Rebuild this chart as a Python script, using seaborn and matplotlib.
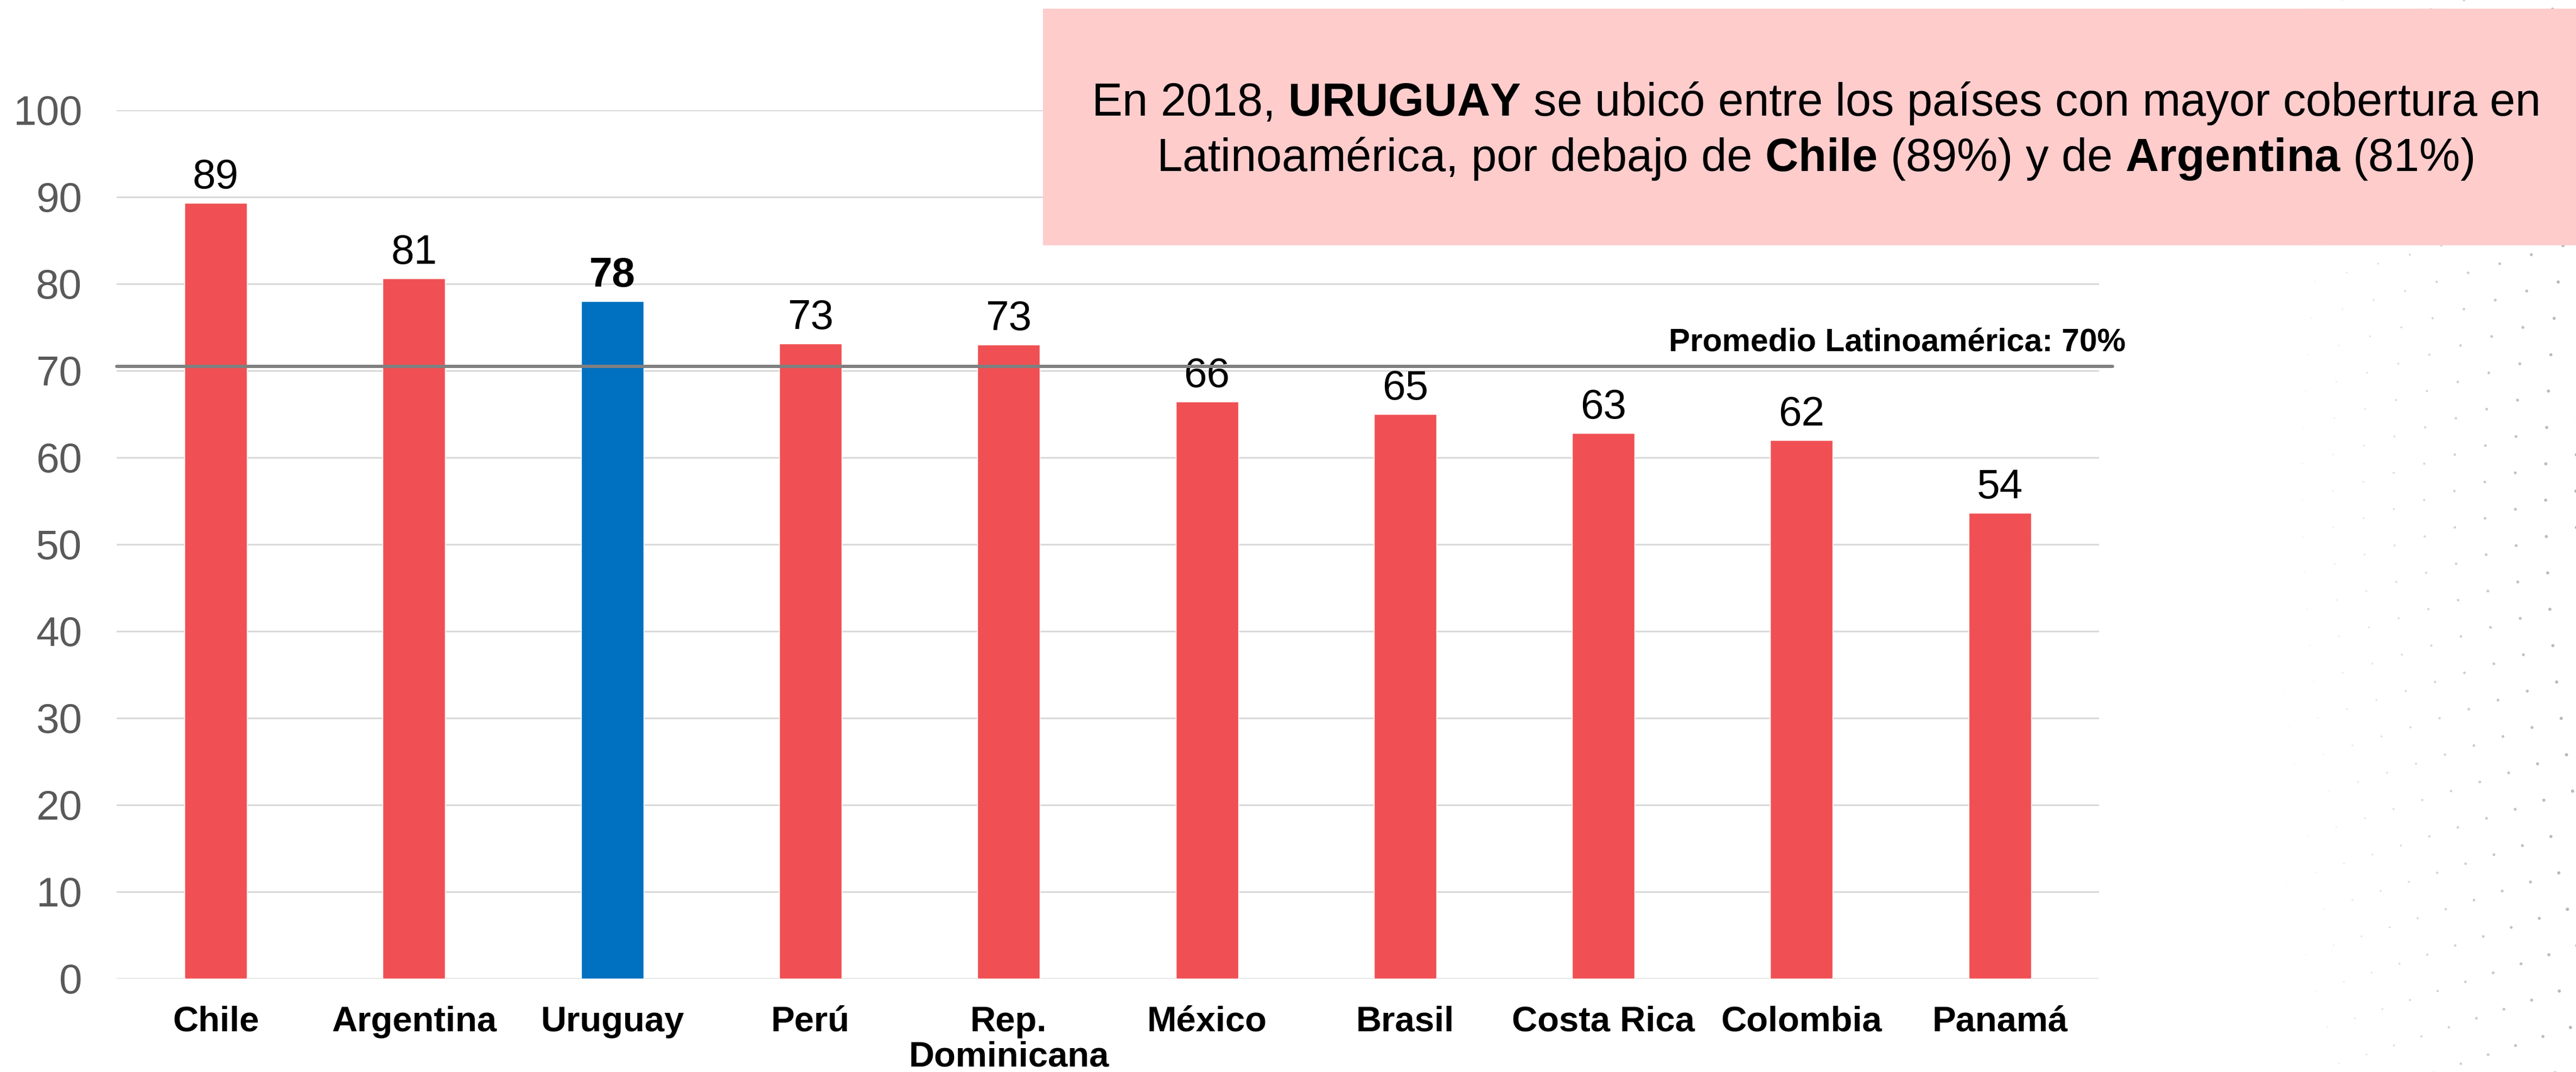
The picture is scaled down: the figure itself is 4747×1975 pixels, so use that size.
import matplotlib
matplotlib.use("Agg")
import matplotlib.pyplot as plt
import numpy as np
import pandas as pd
import seaborn as sns
from matplotlib.patches import Rectangle

# data
countries = ["Chile", "Argentina", "Uruguay", "Perú", "Rep.\nDominicana",
             "México", "Brasil", "Costa Rica", "Colombia", "Panamá"]
coverage = [89.3, 80.6, 78.0, 73.1, 73.0, 66.4, 65.0, 62.8, 62.0, 53.6]
value_labels = ["89", "81", "78", "73", "73", "66", "65", "63", "62", "54"]
highlight = "Uruguay"
latam_average = 70.5
average_label = "Promedio Latinoamérica: 70%"
y_ticks = [0, 10, 20, 30, 40, 50, 60, 70, 80, 90, 100]
note_lines = [
    "En 2018, $\\mathbf{URUGUAY}$ se ubicó entre los países con mayor cobertura en",
    "Latinoamérica, por debajo de $\\mathbf{Chile}$ (89%) y de $\\mathbf{Argentina}$ (81%)",
]

RED = "#F05053"
BLUE = "#0070C0"
PINK = "#FFCCCC"

sns.set_theme(style="white")
plt.rcParams["font.family"] = ["Liberation Sans", "DejaVu Sans"]
plt.rcParams["mathtext.fontset"] = "custom"
plt.rcParams["mathtext.rm"] = "Liberation Sans"
plt.rcParams["mathtext.it"] = "Liberation Sans:italic"
plt.rcParams["mathtext.bf"] = "Liberation Sans:bold"

W, H = 4747, 1975
fig = plt.figure(figsize=(W / 100, H / 100), dpi=100)

# decorative dot pattern in the right margin
bg = fig.add_axes([0, 0, 1, 1], zorder=-1)
bg.set_xlim(0, W)
bg.set_ylim(H, 0)
bg.axis("off")
xs, ys, sz, al = [], [], [], []
for j in range(-5, 7):
    for k in range(-3, 33):
        y = k * 67 - j * 16.7
        x = 4411 + j * 56 + 1.6e-4 * (y - 900) ** 2
        if x > W + 5 or y < -10 or y > H + 10:
            continue
        t = np.clip((x - 4170) / 560, 0, 1)
        xs.append(x)
        ys.append(y)
        sz.append(1.5 + 17 * t ** 1.3)
        al.append(0.08 + 0.92 * t)
colors = [(0.72, 0.72, 0.72, a) for a in al]
bg.scatter(xs, ys, s=sz, c=colors, linewidths=0)

# main bar chart
ax = fig.add_axes([0.0453, 0.0872, 0.7695, 0.8102])
df = pd.DataFrame({"pais": countries, "cobertura": coverage})
palette = {c: (BLUE if c == highlight else RED) for c in countries}
sns.barplot(data=df, x="pais", y="cobertura", hue="pais", palette=palette,
            width=0.315, saturation=1, legend=False, ax=ax)

for container, lab, name in zip(ax.containers, value_labels, countries):
    ax.bar_label(container, labels=[lab], padding=8, fontsize=55, color="black",
                 fontweight="bold" if name == highlight else "normal")

ax.set_ylim(0, 100)
ax.set_xlim(-0.5, len(countries) - 0.5)
ax.set_yticks(y_ticks)
ax.yaxis.grid(True, color="#D9D9D9", linewidth=2.2)
ax.set_axisbelow(True)
for side in ["top", "right", "left", "bottom"]:
    ax.spines[side].set_visible(False)
ax.set_xlabel("")
ax.set_ylabel("")
ax.tick_params(axis="y", labelsize=55, labelcolor="#595959", length=0, pad=46)
ax.tick_params(axis="x", labelsize=47, labelcolor="black", length=0, pad=36)
for lbl in ax.get_xticklabels():
    lbl.set_fontweight("bold")
    lbl.set_linespacing(1.1)

# latin america average
ax.axhline(latam_average, xmin=0, xmax=1.007, color="#808080", linewidth=4.3,
           clip_on=False, zorder=5)
ax.text(1.0134, 72.2, average_label, transform=ax.get_yaxis_transform(),
        ha="right", va="baseline", fontsize=42.5, fontweight="bold", color="black")

# highlighted note box
fig.patches.append(Rectangle((1922 / W, 1 - 452 / H), 1 - 1922 / W, 436 / H,
                             transform=fig.transFigure, facecolor=PINK,
                             edgecolor="none", zorder=10))
for line, base in zip(note_lines, [213, 315]):
    fig.text(3345 / W, 1 - base / H, line, ha="center", va="baseline",
             fontsize=61, color="black", zorder=11)

fig.savefig("out.png", dpi=100)
